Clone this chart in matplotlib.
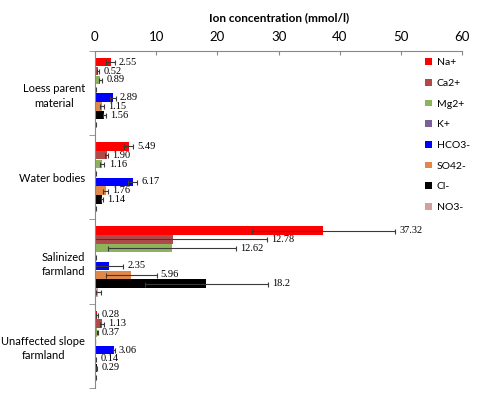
import matplotlib
matplotlib.use("Agg")
import matplotlib.pyplot as plt
import numpy as np

# ---------------------------- data ---------------------------- #
sites = ["Loess parent\nmaterial", "Water bodies", "Salinized\nfarmland",
         "Unaffected slope\nfarmland"]
ions = ["Na+", "Ca2+", "Mg2+", "K+", "HCO3-", "SO42-", "Cl-", "NO3-"]
colors = ["#FF0000", "#B04A4A", "#8DB45A", "#7A6298",
          "#0000FF", "#E0884A", "#000000", "#D4A09E"]

# mean concentrations (mmol/l), one list per ion, in site order
na = [2.55, 5.49, 37.32, 0.28]
ca = [0.52, 1.90, 12.78, 1.13]
mg = [0.89, 1.16, 12.62, 0.37]
k = [0.10, 0.10, 0.15, 0.05]
hco3 = [2.89, 6.17, 2.35, 3.06]
so4 = [1.15, 1.76, 5.96, 0.14]
cl = [1.56, 1.14, 18.2, 0.29]
no3 = [0.10, 0.10, 0.55, 0.08]

# standard errors
na_err = [0.7, 0.7, 11.7, 0.15]
ca_err = [0.15, 0.3, 15.4, 0.3]
mg_err = [0.3, 0.4, 10.5, 0.1]
k_err = [0.05, 0.05, 0.1, 0.03]
hco3_err = [0.5, 0.7, 2.3, 0.15]
so4_err = [0.3, 0.4, 4.1, 0.05]
cl_err = [0.3, 0.2, 10.1, 0.1]
no3_err = [0.05, 0.05, 0.45, 0.03]

# labels shown on the chart (K+ and NO3- unlabelled)
na_lbl = ["2.55", "5.49", "37.32", "0.28"]
ca_lbl = ["0.52", "1.90", "12.78", "1.13"]
mg_lbl = ["0.89", "1.16", "12.62", "0.37"]
hco3_lbl = ["2.89", "6.17", "2.35", "3.06"]
so4_lbl = ["1.15", "1.76", "5.96", "0.14"]
cl_lbl = ["1.56", "1.14", "18.2", "0.29"]

values = [na, ca, mg, k, hco3, so4, cl, no3]
errors = [na_err, ca_err, mg_err, k_err, hco3_err, so4_err, cl_err, no3_err]
labels = [na_lbl, ca_lbl, mg_lbl, None, hco3_lbl, so4_lbl, cl_lbl, None]

# ---------------------------- plot ---------------------------- #
fig = plt.figure(figsize=(4.97, 3.99), dpi=100)
ax = fig.add_axes([0.191, 0.028, 0.739, 0.844])

y = np.arange(len(sites))
slot = 0.105
bar_h = 0.1

for i, ion in enumerate(ions):
    pos = y + (i - 3.5) * slot
    ax.barh(pos, values[i], height=bar_h, color=colors[i], label=ion,
            xerr=errors[i], error_kw=dict(ecolor="#3a3a3a", elinewidth=0.8,
                                         capsize=1.8, capthick=0.8))
    if labels[i] is not None:
        for p, v, e, t in zip(pos, values[i], errors[i], labels[i]):
            ax.annotate(t, (v + e, p), xytext=(3, 0), textcoords="offset points",
                        va="center", ha="left", fontsize=7.5,
                        family="Liberation Serif")

ax.set_xlim(0, 60)
ax.set_ylim(len(sites) - 0.5, -0.5)
ax.xaxis.tick_top()
ax.xaxis.set_label_position("top")
ax.set_xticks(np.arange(0, 61, 10))
ax.tick_params(axis="x", direction="in", length=3, color="#888888",
               labelsize=9.5, pad=6)
ax.set_xlabel("Ion concentration (mmol/l)", fontsize=8.5, fontweight="bold",
              labelpad=7, family="Lato")

ax.set_yticks(y)
ax.set_yticklabels(sites, fontsize=8, family="Lato", linespacing=1.4,
                   multialignment="center")
ax.tick_params(axis="y", length=0, pad=7)
ax.set_yticks(np.arange(-0.5, len(sites)), minor=True)
ax.tick_params(axis="y", which="minor", length=4, color="#888888")

for side in ["right", "bottom"]:
    ax.spines[side].set_visible(False)
for side in ["left", "top"]:
    ax.spines[side].set_color("#888888")
    ax.spines[side].set_linewidth(0.8)

for t in ax.get_xticklabels():
    t.set_family("Lato")

leg = ax.legend(loc="upper left", bbox_to_anchor=(0.874, 1.006), frameon=False,
                fontsize=7.5, handlelength=0.6, handleheight=0.6,
                handletextpad=0.5, labelspacing=1.12)
for t in leg.get_texts():
    t.set_family("Lato")

fig.savefig("out.png", dpi=100)
